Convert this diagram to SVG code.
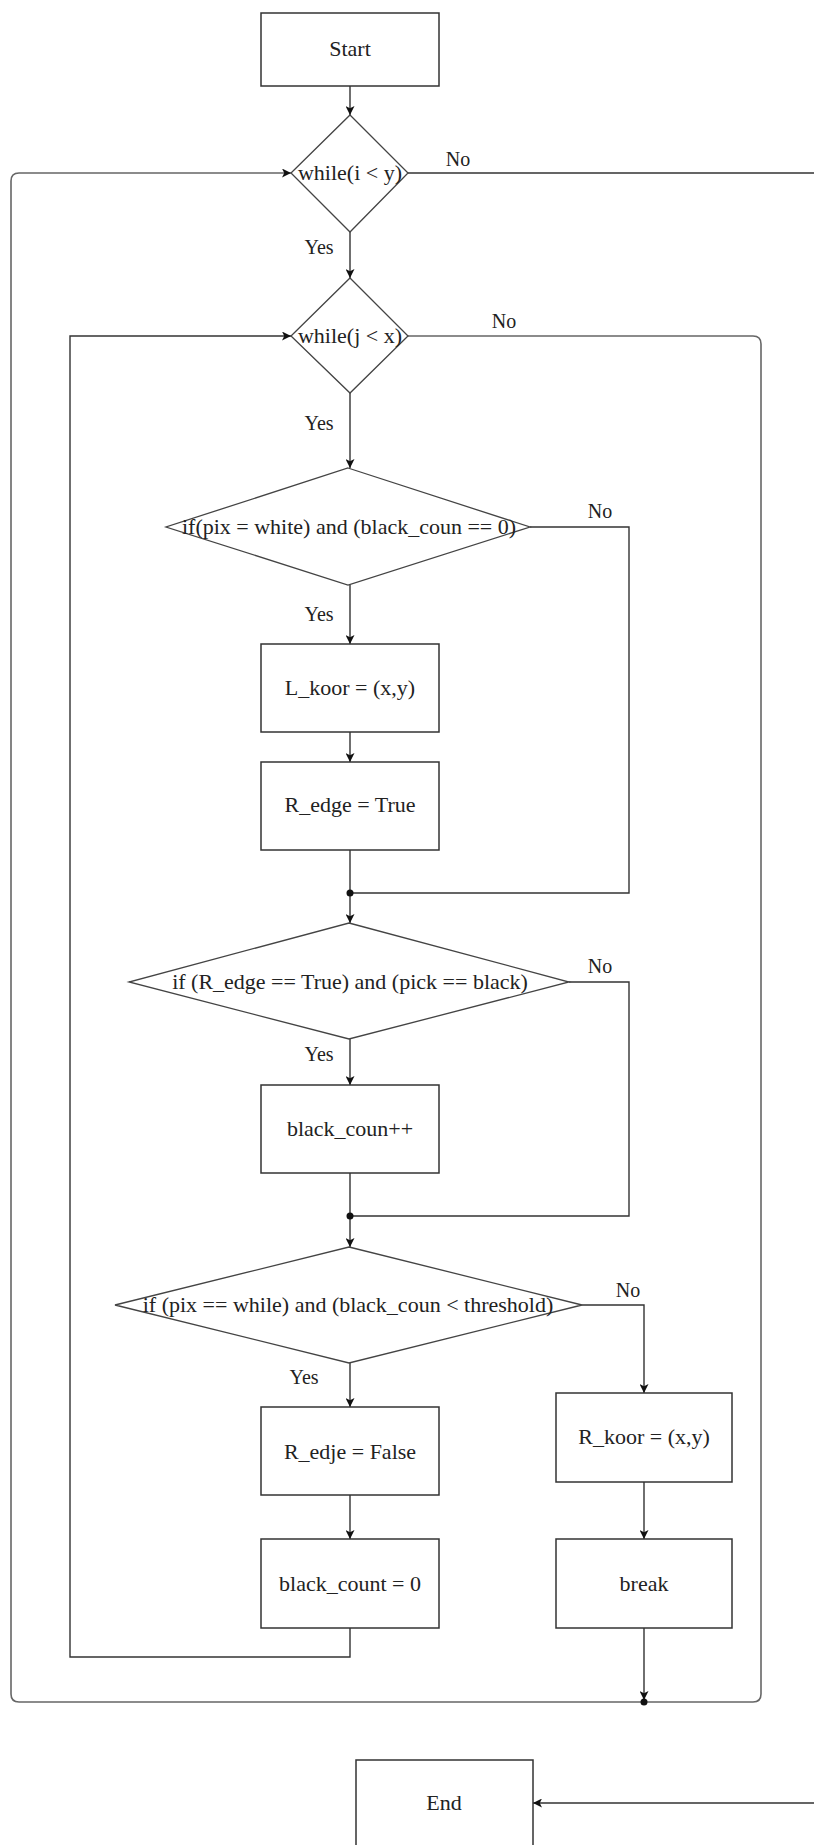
<svg xmlns="http://www.w3.org/2000/svg" width="814" height="1845" viewBox="0 0 814 1845">
<style>
.box{fill:#fff;stroke:#333;stroke-width:1.5}
.dia{fill:#fff;stroke:#444;stroke-width:1.3}
.t{font-family:"Liberation Serif","Times New Roman",serif;font-size:22px;fill:#222;text-anchor:middle}
.lbl{font-family:"Liberation Serif","Times New Roman",serif;font-size:20px;fill:#222;text-anchor:middle}
.c{fill:none;stroke:#333;stroke-width:1.4}
.g{fill:none;stroke:#666;stroke-width:1.6}
</style>
<defs>
<marker id="arr" viewBox="0 0 10 10" refX="10" refY="5" markerWidth="9" markerHeight="9" markerUnits="userSpaceOnUse" orient="auto">
<path d="M0,0 L10,5 L0,10 L2.5,5 Z" fill="#111"/>
</marker>
</defs>
<rect width="814" height="1845" fill="#fff"/>
<g id="connectors">
<path class="c" d="M350,86 V115" marker-end="url(#arr)"/>
<path class="c" d="M408,173 H815 V1803 H533" marker-end="url(#arr)"/>
<path class="c" d="M350,232 V278" marker-end="url(#arr)"/>
<path class="g" d="M408,336 H753 Q761,336 761,344 V1694 Q761,1702 753,1702 H19 Q11,1702 11,1694 V181 Q11,173 19,173 H291" marker-end="url(#arr)"/>
<path class="c" d="M350,393 V468" marker-end="url(#arr)"/>
<path class="c" d="M530,527 H629 V893 H350"/>
<path class="c" d="M350,585 V644" marker-end="url(#arr)"/>
<path class="c" d="M350,732 V762" marker-end="url(#arr)"/>
<path class="c" d="M350,850 V923" marker-end="url(#arr)"/>
<circle cx="350" cy="893" r="3.5" fill="#111"/>
<path class="c" d="M569,982 H629 V1216 H350"/>
<path class="c" d="M350,1039 V1085" marker-end="url(#arr)"/>
<path class="c" d="M350,1173 V1247" marker-end="url(#arr)"/>
<circle cx="350" cy="1216" r="3.5" fill="#111"/>
<path class="c" d="M582,1305 H644 V1393" marker-end="url(#arr)"/>
<path class="c" d="M350,1363 V1407" marker-end="url(#arr)"/>
<path class="c" d="M350,1495 V1539" marker-end="url(#arr)"/>
<path class="c" d="M350,1628 V1657 H70 V336 H291" marker-end="url(#arr)"/>
<path class="c" d="M644,1482 V1539" marker-end="url(#arr)"/>
<path class="c" d="M644,1628 V1700" marker-end="url(#arr)"/>
<circle cx="644" cy="1702" r="3.5" fill="#111"/>
</g>
<g id="labels">
<text class="lbl" x="458" y="166">No</text>
<text class="lbl" x="319" y="254">Yes</text>
<text class="lbl" x="504" y="328">No</text>
<text class="lbl" x="319" y="430">Yes</text>
<text class="lbl" x="600" y="518">No</text>
<text class="lbl" x="319" y="621">Yes</text>
<text class="lbl" x="600" y="973">No</text>
<text class="lbl" x="319" y="1061">Yes</text>
<text class="lbl" x="628" y="1297">No</text>
<text class="lbl" x="304" y="1384">Yes</text>
</g>
<g id="start"><rect class="box" x="261" y="13" width="178" height="73"/><text class="t" x="350" y="56">Start</text></g>
<g id="while_i"><polygon class="dia" points="350,115 408,173 350,232 291,173"/><text class="t" x="350" y="180">while(i &lt; y)</text></g>
<g id="while_j"><polygon class="dia" points="350,278 408,336 350,393 291,336"/><text class="t" x="350" y="343">while(j &lt; x)</text></g>
<g id="if_white"><polygon class="dia" points="348,468 530,527 348,585 166,527"/><text class="t" x="349" y="534">if(pix = white) and (black_coun == 0)</text></g>
<g id="l_koor"><rect class="box" x="261" y="644" width="178" height="88"/><text class="t" x="350" y="695">L_koor = (x,y)</text></g>
<g id="r_edge_true"><rect class="box" x="261" y="762" width="178" height="88"/><text class="t" x="350" y="812">R_edge = True</text></g>
<g id="if_redge"><polygon class="dia" points="349,923 569,982 349,1039 129,982"/><text class="t" x="350" y="989">if (R_edge == True) and (pick == black)</text></g>
<g id="black_inc"><rect class="box" x="261" y="1085" width="178" height="88"/><text class="t" x="350" y="1136">black_coun++</text></g>
<g id="if_thresh"><polygon class="dia" points="349,1247 582,1305 349,1363 115,1305"/><text class="t" x="348" y="1312">if (pix == while) and (black_coun &lt; threshold)</text></g>
<g id="r_edje_false"><rect class="box" x="261" y="1407" width="178" height="88"/><text class="t" x="350" y="1459">R_edje = False</text></g>
<g id="r_koor"><rect class="box" x="556" y="1393" width="176" height="89"/><text class="t" x="644" y="1444">R_koor = (x,y)</text></g>
<g id="black_reset"><rect class="box" x="261" y="1539" width="178" height="89"/><text class="t" x="350" y="1591">black_count = 0</text></g>
<g id="break"><rect class="box" x="556" y="1539" width="176" height="89"/><text class="t" x="644" y="1591">break</text></g>
<g id="end"><rect class="box" x="356" y="1760" width="177" height="88"/><text class="t" x="444" y="1810">End</text></g>
</svg>
